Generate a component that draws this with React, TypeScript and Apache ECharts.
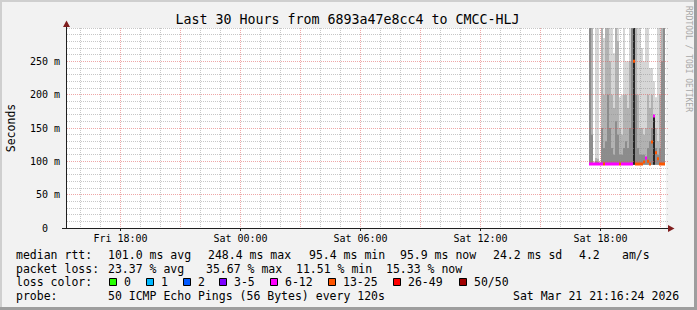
import React, { useEffect, useRef } from 'react';
import * as echarts from 'echarts';

// ---------- texts ----------
const TITLE = 'Last 30 Hours from 6893a47e8cc4 to CMCC-HLJ';
const Y_AXIS_NAME = 'Seconds';
const WATERMARK = 'RRDTOOL / TOBI OETIKER';

// ---------- axes (x in hours since Fri 00:00) ----------
const START_HOUR = 15 + 16 / 60 + 24 / 3600; // Fri 15:16:24
const SPAN_HOURS = 30;
const X_LABEL_HOURS = [18, 24, 30, 36, 42];
const Y_MAX = 300;
const Y_LABEL_STEP = 50;

// ---------- data (Saturday columns, 6-minute consolidation) ----------
const COLUMN_MINUTES = 6;
const SAT_TIMES = [
  '17:26', '17:32', '17:38', '17:44', '17:50', '17:56', '18:02', '18:08', '18:14', '18:20',
  '18:26', '18:32', '18:38', '18:44', '18:50', '18:56', '19:02', '19:08', '19:14', '19:20',
  '19:26', '19:32', '19:38', '19:44', '19:50', '19:56', '20:02', '20:08', '20:14', '20:20',
  '20:26', '20:32', '20:38', '20:44', '20:50', '20:56', '21:02', '21:08',
];
const SMOKE_MIN = 95;
// outer smoke (max ping), ms
const SMOKE_MAX = [
  300, 300, 100, 300, 300, 100, 300, 285, 300, 300,
  300, 300, 262, 300, 300, 196, 200, 300, 250, 250,
  300, 300, 300, 300, 300, 300, 270, 250, 300, 300,
  240, 240, 220, 196, 300, 300, 300, 300,
];
const SMOKE_UPPER = [
  300, 300, 97, 105, 104, 97, 300, 200, 300, 300,
  250, 200, 180, 300, 280, 150, 140, 200, 200, 180,
  250, 300, 300, 300, 200, 150, 150, 140, 150, 200,
  180, 200, 169, 150, 130, 200, 300, 300,
];
const SMOKE_INNER = [
  300, 140, 96, 100, 99, 96, 150, 120, 130, 200,
  150, 120, 110, 160, 140, 110, 110, 120, 130, 120,
  150, 300, 300, 200, 120, 110, 110, 110, 105, 120,
  130, 150, 169, 120, 110, 120, 250, 300,
];
const SMOKE_CORE = [
  0, 0, 0, 0, 0, 0, 0, 0, 0, 0,
  0, 0, 0, 0, 0, 0, 0, 0, 0, 0,
  0, 0, 300, 0, 0, 0, 0, 0, 0, 0,
  0, 0, 169, 0, 0, 0, 0, 0,
];
const MEDIAN_RTT = [
  96, 96, 96, 96, 96, 96, 96, 96, 96, 96,
  96, 96, 96, 96, 96, 96, 96, 96, 96, 96,
  96, 96, 250, 96, 96, 96, 96, 99, 105, 100,
  96, 129, 168, 113, 104, 96, 96, 96,
];
// index into LOSS_LABELS / LOSS_COLORS
const LOSS_BIN = [
  4, 4, 4, 4, 4, 4, 4, 5, 4, 4,
  4, 4, 4, 4, 4, 5, 4, 4, 4, 4,
  4, 4, 5, 5, 5, 5, 5, 5, 4, 5,
  5, 5, 4, 5, 5, 5, 5, 5,
];

const LOSS_LABELS = ['0', '1', '2', '3-5', '6-12', '13-25', '26-49', '50/50'];
const LOSS_COLORS = ['#26ff00', '#00b8ff', '#0059ff', '#7e00ff', '#ff00ff', '#ff5500', '#ff0000', '#a10000'];

const RTT_STATS = ['101.0 ms avg', '248.4 ms max', '95.4 ms min', '95.9 ms now', '24.2 ms sd'];
const RTT_AMS = ['4.2', 'am/s'];
const LOSS_STATS = ['23.37 % avg', '35.67 % max', '11.51 % min', '15.33 % now'];
const PROBE_TEXT = '50 ICMP Echo Pings (56 Bytes) every 120s';
const TIMESTAMP = 'Sat Mar 21 21:16:24 2026';

// ---------- layout / style ----------
const MONO = '"DejaVu Sans Mono", "Liberation Mono", monospace';
const SHADES = ['#d6d6d6', '#b2b2b2', '#8c8c8c', '#262626'];
const MINOR_GRID = 'rgba(143,143,143,0.5)';
const MAJOR_GRID = 'rgba(222,79,79,0.5)';
const ARROW = '#801f1f';
const AXIS = '#1f1f1f';
const GRID = { left: 66, top: 28, width: 600, height: 200 };
const ROW_Y = [255, 268.5, 282, 296];
const RTT_X = [108, 208, 309, 400, 493];
const AMS_X = [579, 622];
const LOSS_X = [108, 206, 296, 386];
const BOX_X = [109, 146, 183, 219, 270, 328, 393, 459];

function toHour(t: string) {
  const [h, m] = t.split(':').map(Number);
  return 24 + h + m / 60;
}

function hourLabel(h: number) {
  const day = h < 24 ? 'Fri' : 'Sat';
  const hh = Math.round(h) % 24;
  return `${day} ${String(hh).padStart(2, '0')}:00`;
}

function txt(text: string, x: number, y: number, size: number, extra: any = {}) {
  return {
    type: 'text',
    x,
    y,
    z: 20,
    silent: true,
    ...extra,
    style: {
      text,
      font: `${size}px ${MONO}`,
      fill: extra.fill || '#000',
      textAlign: extra.align || 'left',
      align: extra.align || 'left',
      textVerticalAlign: 'middle',
      verticalAlign: 'middle',
    },
  };
}

export default function App() {
  const ref = useRef<HTMLDivElement>(null);

  useEffect(() => {
    document.body.style.margin = '0';
    if (!ref.current) return;
    const chart = echarts.init(ref.current, undefined, { renderer: 'svg' });

    const stepH = COLUMN_MINUTES / 60;
    const smokeData = SAT_TIMES.map((t, i) => [
      toHour(t), SMOKE_MAX[i], SMOKE_UPPER[i], SMOKE_INNER[i], SMOKE_CORE[i],
    ]);
    const medianData = SAT_TIMES.map((t, i) => [toHour(t), MEDIAN_RTT[i], LOSS_BIN[i]]);

    const gridHours: number[] = [];
    for (let h = Math.ceil(START_HOUR); h <= START_HOUR + SPAN_HOURS; h++) gridHours.push(h);
    const gridValues: number[] = [];
    for (let v = 10; v <= Y_MAX; v += 10) gridValues.push(v);

    const graphic: any[] = [
      // frame shading
      { type: 'rect', shape: { x: 0, y: 0, width: 697, height: 2 }, style: { fill: '#cfcfcf' }, silent: true },
      { type: 'rect', shape: { x: 0, y: 0, width: 2, height: 310 }, style: { fill: '#cfcfcf' }, silent: true },
      { type: 'rect', shape: { x: 0, y: 307, width: 697, height: 3 }, style: { fill: '#9e9e9e' }, silent: true },
      { type: 'rect', shape: { x: 694, y: 0, width: 3, height: 310 }, style: { fill: '#9e9e9e' }, silent: true },
      // axis extensions and arrows
      { type: 'line', z: 20, silent: true, shape: { x1: 62, y1: 228.5, x2: 67, y2: 228.5 }, style: { stroke: AXIS, lineWidth: 1 } },
      { type: 'line', z: 20, silent: true, shape: { x1: 665, y1: 228.5, x2: 669, y2: 228.5 }, style: { stroke: AXIS, lineWidth: 1 } },
      { type: 'line', z: 20, silent: true, shape: { x1: 66.5, y1: 26, x2: 66.5, y2: 29 }, style: { stroke: AXIS, lineWidth: 1 } },
      { type: 'polygon', z: 20, silent: true, shape: { points: [[66.5, 20.5], [63, 27], [70, 27]] }, style: { fill: ARROW } },
      { type: 'polygon', z: 20, silent: true, shape: { points: [[674.5, 228.5], [668, 225], [668, 232]] }, style: { fill: ARROW } },
      // titles
      txt(TITLE, 347.5, 19.5, 13.3, { align: 'center' }),
      txt(Y_AXIS_NAME, 11, 128, 11.5, { align: 'center', rotation: Math.PI / 2 }),
      txt(WATERMARK, 688, 59, 8, { align: 'center', rotation: -Math.PI / 2, fill: '#a8a8a8' }),
      // legend row 1
      txt('median rtt:', 16, ROW_Y[0], 11.5),
      ...RTT_STATS.map((s, i) => txt(s, RTT_X[i], ROW_Y[0], 11.5)),
      ...RTT_AMS.map((s, i) => txt(s, AMS_X[i], ROW_Y[0], 11.5)),
      // legend row 2
      txt('packet loss:', 16, ROW_Y[1], 11.5),
      ...LOSS_STATS.map((s, i) => txt(s, LOSS_X[i], ROW_Y[1], 11.5)),
      // legend row 3
      txt('loss color:', 16, ROW_Y[2], 11.5),
      ...LOSS_LABELS.map((l, i) => ({
        type: 'rect', z: 20, silent: true,
        shape: { x: BOX_X[i] + 0.5, y: 278.5, width: 7, height: 7 },
        style: { fill: LOSS_COLORS[i], stroke: '#000', lineWidth: 1 },
      })),
      ...LOSS_LABELS.map((l, i) => txt(l, BOX_X[i] + 15, ROW_Y[2], 11.5)),
      // legend row 4
      txt('probe:', 16, ROW_Y[3], 11.5),
      txt(PROBE_TEXT, 108, ROW_Y[3], 11.5),
      txt(TIMESTAMP, 513, ROW_Y[3], 11.5),
    ];

    const option: any = {
      animation: false,
      backgroundColor: '#f2f2f2',
      grid: { ...GRID, show: true, backgroundColor: '#ffffff', borderWidth: 0, containLabel: false },
      xAxis: {
        type: 'value',
        min: START_HOUR,
        max: START_HOUR + SPAN_HOURS,
        axisLine: { show: true, lineStyle: { color: AXIS, width: 1 } },
        axisTick: { show: true, customValues: X_LABEL_HOURS, length: 3, lineStyle: { color: AXIS } },
        splitLine: { show: false },
        axisLabel: {
          customValues: X_LABEL_HOURS,
          formatter: (v: number) => hourLabel(v),
          fontFamily: MONO,
          fontSize: 10,
          color: '#000',
          margin: 5,
        },
      },
      yAxis: {
        type: 'value',
        min: 0,
        max: Y_MAX,
        interval: Y_LABEL_STEP,
        axisLine: { show: true, lineStyle: { color: AXIS, width: 1 } },
        axisTick: { show: false },
        splitLine: { show: false },
        axisLabel: {
          formatter: (v: number) => (v === 0 ? '0\u00a0\u00a0' : v >= Y_MAX ? '' : `${v} m`),
          fontFamily: MONO,
          fontSize: 10,
          color: '#000',
          margin: 6,
        },
      },
      graphic,
      series: [
        {
          type: 'custom',
          name: 'smoke',
          z: 2,
          silent: true,
          clip: true,
          data: smokeData,
          encode: { x: 0, y: 1 },
          renderItem: (_p: any, api: any) => {
            const t = api.value(0);
            const b = api.coord([t, SMOKE_MIN]);
            const r = api.coord([t + stepH, SMOKE_MIN]);
            const x0 = Math.round(b[0]);
            const w = Math.max(1, Math.round(r[0]) - x0);
            const children: any[] = [];
            [1, 2, 3, 4].forEach((k, j) => {
              const v = api.value(k);
              if (!(v > SMOKE_MIN)) return;
              const y = api.coord([t, v])[1];
              children.push({ type: 'rect', shape: { x: x0, y, width: w, height: b[1] - y }, style: { fill: SHADES[j] } });
            });
            return { type: 'group', children };
          },
        },
        {
          type: 'custom',
          name: 'hgrid',
          z: 3,
          silent: true,
          clip: false,
          data: gridValues.map((v) => [START_HOUR, v]),
          encode: { x: 0, y: 1 },
          renderItem: (_p: any, api: any) => {
            const v = Math.round(api.value(1));
            const a = api.coord([START_HOUR, v]);
            const b = api.coord([START_HOUR + SPAN_HOURS, v]);
            const y = Math.floor(a[1]) + 0.5;
            const major = v % Y_LABEL_STEP === 0 && v < Y_MAX;
            return {
              type: 'line',
              shape: { x1: a[0] + 1, y1: y, x2: b[0] + 2, y2: y },
              style: { stroke: major ? MAJOR_GRID : MINOR_GRID, lineWidth: 1, lineDash: [1, 1] },
            };
          },
        },
        {
          type: 'custom',
          name: 'vgrid',
          z: 3,
          silent: true,
          clip: false,
          data: gridHours.map((h) => [h, 0]),
          encode: { x: 0, y: 1 },
          renderItem: (_p: any, api: any) => {
            const h = Math.round(api.value(0));
            const a = api.coord([h, Y_MAX]);
            const b = api.coord([h, 0]);
            const x = Math.floor(a[0]) + 0.5;
            return {
              type: 'line',
              shape: { x1: x, y1: a[1], x2: x, y2: b[1] },
              style: { stroke: h % 3 === 0 ? MAJOR_GRID : MINOR_GRID, lineWidth: 1, lineDash: [1, 1] },
            };
          },
        },
        {
          type: 'custom',
          name: 'median rtt',
          z: 4,
          silent: true,
          clip: true,
          data: medianData,
          encode: { x: 0, y: 1 },
          renderItem: (_p: any, api: any) => {
            const t = api.value(0);
            const p = api.coord([t, api.value(1)]);
            const r = api.coord([t + stepH, api.value(1)]);
            const x0 = Math.round(p[0]);
            const w = Math.max(1, Math.round(r[0]) - x0);
            return {
              type: 'rect',
              shape: { x: x0, y: p[1] - 1.5, width: w, height: 3 },
              style: { fill: LOSS_COLORS[api.value(2)] },
            };
          },
        },
      ],
    };

    chart.setOption(option);
    return () => chart.dispose();
  }, []);

  return <div ref={ref} style={{ width: 697, height: 310 }} />;
}
